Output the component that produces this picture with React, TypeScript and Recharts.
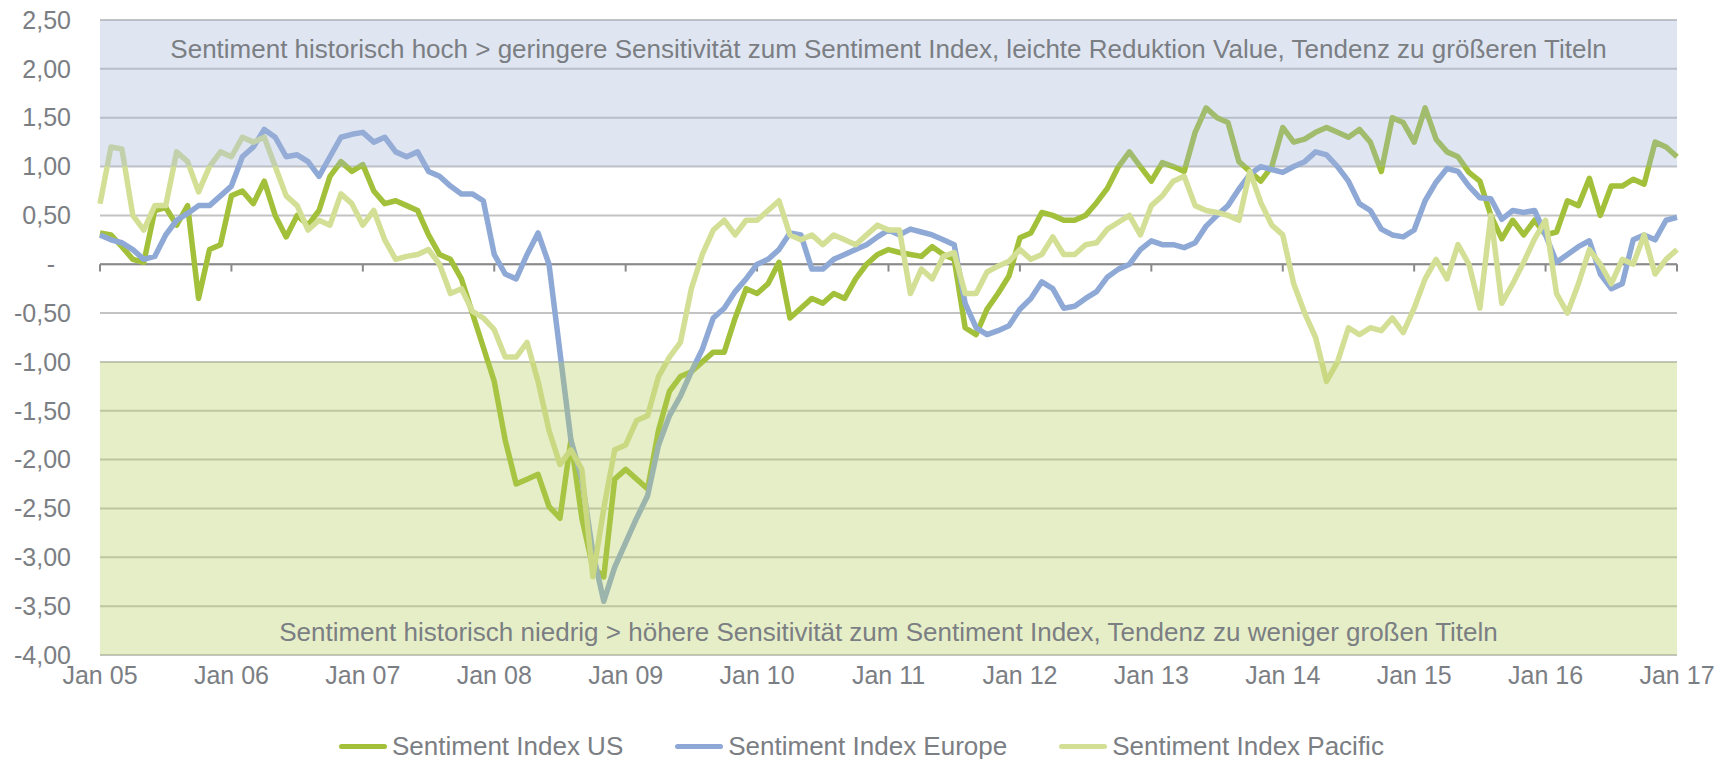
import React from "react";
import { LineChart, Line, XAxis, YAxis, CartesianGrid, ReferenceArea, ReferenceLine } from "recharts";

const FONT = '"Liberation Sans", Arial, sans-serif';
const TEXT = "#7b7e83";

// one point per month, Jan 05 .. Jan 17
const months = Array.from({ length: 145 }, (_, i) => 2005 + i / 12);

const usIndex = [
  0.32, 0.3, 0.18, 0.05, 0.02, 0.55, 0.58, 0.4, 0.6, -0.35, 0.15, 0.2,
  0.7, 0.75, 0.62, 0.85, 0.5, 0.28, 0.5, 0.4, 0.55, 0.9, 1.05, 0.95,
  1.02, 0.75, 0.62, 0.65, 0.6, 0.55, 0.3, 0.1, 0.05, -0.15, -0.5, -0.85,
  -1.2, -1.8, -2.25, -2.2, -2.15, -2.48, -2.6, -1.8, -2.6, -3.1, -3.2, -2.2,
  -2.1, -2.2, -2.3, -1.7, -1.3, -1.15, -1.1, -1.0, -0.9, -0.9, -0.55, -0.25,
  -0.3, -0.2, 0.02, -0.55, -0.45, -0.35, -0.4, -0.3, -0.35, -0.15, 0.0, 0.1,
  0.15, 0.12, 0.1, 0.08, 0.18, 0.1, 0.05, -0.65, -0.72, -0.46, -0.3, -0.12,
  0.27, 0.32, 0.53, 0.5, 0.45, 0.45, 0.5, 0.63, 0.78, 1.0, 1.15, 1.0,
  0.85, 1.04, 1.0, 0.95, 1.35, 1.6, 1.5, 1.45, 1.05, 0.95, 0.85, 1.0,
  1.4, 1.25, 1.28, 1.35, 1.4, 1.35, 1.3, 1.38, 1.25, 0.95, 1.5, 1.45,
  1.25, 1.6, 1.28, 1.15, 1.1, 0.94, 0.85, 0.5, 0.26, 0.45, 0.3, 0.45,
  0.3, 0.33, 0.65, 0.6, 0.88, 0.5, 0.8, 0.8, 0.87, 0.82, 1.25, 1.2,
  1.1,
];

const europeIndex = [
  0.3, 0.25, 0.22, 0.15, 0.05, 0.08, 0.3, 0.45, 0.52, 0.6, 0.6, 0.7,
  0.8, 1.1, 1.2, 1.38, 1.3, 1.1, 1.12, 1.05, 0.9, 1.1, 1.3, 1.33,
  1.35, 1.25, 1.3, 1.15, 1.1, 1.15, 0.95, 0.9, 0.8, 0.72, 0.72, 0.65,
  0.1, -0.1, -0.15, 0.1, 0.32, 0.0, -0.9, -1.8, -2.2, -2.95, -3.45, -3.1,
  -2.85, -2.6, -2.37, -1.85, -1.55, -1.35, -1.1, -0.87, -0.55, -0.45, -0.28, -0.15,
  0.0, 0.05, 0.15, 0.32, 0.3, -0.05, -0.05, 0.05, 0.1, 0.15, 0.2, 0.28,
  0.35, 0.3, 0.36, 0.33, 0.3, 0.25, 0.2, -0.4, -0.65, -0.72, -0.68, -0.63,
  -0.46, -0.35, -0.18, -0.25, -0.45, -0.43, -0.35, -0.28, -0.13, -0.05, 0.0, 0.15,
  0.24, 0.2, 0.2, 0.17, 0.22, 0.39, 0.5, 0.6, 0.77, 0.92, 1.0, 0.97,
  0.94, 1.0, 1.05, 1.15, 1.12, 1.0, 0.85, 0.62, 0.55, 0.36, 0.3, 0.28,
  0.35, 0.65, 0.84, 0.98, 0.95, 0.8, 0.68, 0.67, 0.46, 0.55, 0.53, 0.55,
  0.3, 0.02, 0.1, 0.18, 0.24, -0.1, -0.25, -0.2, 0.25, 0.3, 0.25, 0.45,
  0.48,
];

const pacificIndex = [
  0.62, 1.2, 1.18, 0.5, 0.35, 0.6, 0.6, 1.15, 1.05, 0.74, 1.0, 1.15,
  1.1, 1.3, 1.25, 1.3, 1.0, 0.7, 0.6, 0.35, 0.45, 0.4, 0.72, 0.62,
  0.4, 0.55, 0.25, 0.05, 0.08, 0.1, 0.15, 0.0, -0.3, -0.25, -0.48, -0.55,
  -0.67, -0.95, -0.95, -0.8, -1.2, -1.7, -2.05, -1.9, -2.1, -3.2, -2.5, -1.9,
  -1.85, -1.6, -1.55, -1.15, -0.95, -0.8, -0.25, 0.1, 0.35, 0.45, 0.3, 0.45,
  0.45, 0.55, 0.65, 0.3, 0.25, 0.3, 0.2, 0.3, 0.25, 0.2, 0.3, 0.4,
  0.35, 0.35, -0.3, -0.05, -0.15, 0.08, 0.12, -0.3, -0.3, -0.08, -0.02, 0.03,
  0.15, 0.05, 0.1, 0.28, 0.1, 0.1, 0.2, 0.22, 0.36, 0.43, 0.5, 0.3,
  0.6, 0.7, 0.85, 0.9, 0.6, 0.55, 0.53, 0.5, 0.45, 0.95, 0.63, 0.4,
  0.3, -0.2, -0.5, -0.75, -1.2, -1.0, -0.65, -0.72, -0.65, -0.68, -0.55, -0.7,
  -0.45, -0.15, 0.05, -0.15, 0.2, 0.0, -0.45, 0.5, -0.4, -0.2, 0.02, 0.26,
  0.45, -0.3, -0.5, -0.2, 0.15, 0.0, -0.2, 0.05, 0.0, 0.3, -0.1, 0.05,
  0.15,
];

const yearTicks = [2005, 2006, 2007, 2008, 2009, 2010, 2011, 2012, 2013, 2014, 2015, 2016, 2017];
const yTicks = [-4, -3.5, -3, -2.5, -2, -1.5, -1, -0.5, 0, 0.5, 1, 1.5, 2, 2.5];

const topText =
  "Sentiment historisch hoch > geringere Sensitivität zum Sentiment Index, leichte Reduktion Value, Tendenz zu größeren Titeln";
const bottomText =
  "Sentiment historisch niedrig > höhere Sensitivität zum Sentiment Index, Tendenz zu weniger großen Titeln";

const series = [
  { key: "us", name: "Sentiment Index US", color: "#a3c03a" },
  { key: "europe", name: "Sentiment Index Europe", color: "#8fa9d6" },
  { key: "pacific", name: "Sentiment Index Pacific", color: "#d4df96" },
];

const data = months.map((t, i) => ({
  t,
  us: usIndex[i],
  europe: europeIndex[i],
  pacific: pacificIndex[i],
}));

const YTick = (props: any) => {
  const { x, y, payload } = props;
  const v = payload.value;
  const label = v === 0 ? "-" : v.toFixed(2).replace(".", ",");
  return (
    <text x={v === 0 ? x - 16 : x} y={y} dy="0.35em" textAnchor="end" fill={TEXT} fontSize={25} fontFamily={FONT}>
      {label}
    </text>
  );
};

export default function App() {
  return (
    <div style={{ width: 1732, margin: "-8px 0 0 -8px", fontFamily: FONT }}>
      <LineChart width={1732} height={708} data={data} margin={{ top: 20, right: 55, bottom: 13, left: 20 }}>
        <CartesianGrid vertical={false} stroke="#c3c3c3" strokeWidth={2} />
        <XAxis
          dataKey="t"
          type="number"
          domain={[2005, 2017]}
          ticks={yearTicks}
          interval={0}
          tickFormatter={(v: number) => "Jan " + String(v).slice(2)}
          axisLine={false}
          tickLine={false}
          tickSize={0}
          tickMargin={11}
          height={40}
          tick={{ fill: TEXT, fontSize: 25, fontFamily: FONT }}
        />
        <YAxis
          domain={[-4, 2.5]}
          ticks={yTicks}
          interval={0}
          axisLine={false}
          tickLine={false}
          tickSize={0}
          tickMargin={29}
          width={80}
          tick={<YTick />}
        />
        <ReferenceLine y={0} stroke="#8a8a8a" strokeWidth={2} />
        {yearTicks.map((yr) => (
          <ReferenceLine
            key={yr}
            segment={[
              { x: yr, y: 0 },
              { x: yr, y: -0.075 },
            ]}
            stroke="#8a8a8a"
            strokeWidth={2}
          />
        ))}
        {series.map((s) => (
          <Line
            key={s.key}
            dataKey={s.key}
            name={s.name}
            stroke={s.color}
            strokeWidth={5.5}
            dot={false}
            type="linear"
            strokeLinejoin="round"
            isAnimationActive={false}
          />
        ))}
        <ReferenceArea
          y1={1}
          y2={2.5}
          fill="#9eb3d7"
          fillOpacity={0.33}
          stroke="none"
          zIndex={450}
          label={{ value: topText, position: "insideTop", offset: 20, fill: TEXT, fontSize: 26, fontFamily: FONT }}
        />
        <ReferenceArea
          y1={-4}
          y2={-1}
          fill="#b3cb58"
          fillOpacity={0.33}
          stroke="none"
          zIndex={450}
          label={{ value: bottomText, position: "insideBottom", offset: 14, fill: TEXT, fontSize: 26, fontFamily: FONT }}
        />
      </LineChart>
      <div style={{ display: "flex", alignItems: "center", height: 26, marginTop: 25, paddingLeft: 339 }}>
        {series.map((s) => (
          <div key={s.key} style={{ display: "flex", alignItems: "center", marginRight: 52 }}>
            <span style={{ display: "inline-block", width: 48, height: 5, borderRadius: 3, background: s.color, marginRight: 5 }} />
            <span style={{ fontSize: 26, lineHeight: "26px", color: TEXT }}>{s.name}</span>
          </div>
        ))}
      </div>
    </div>
  );
}
